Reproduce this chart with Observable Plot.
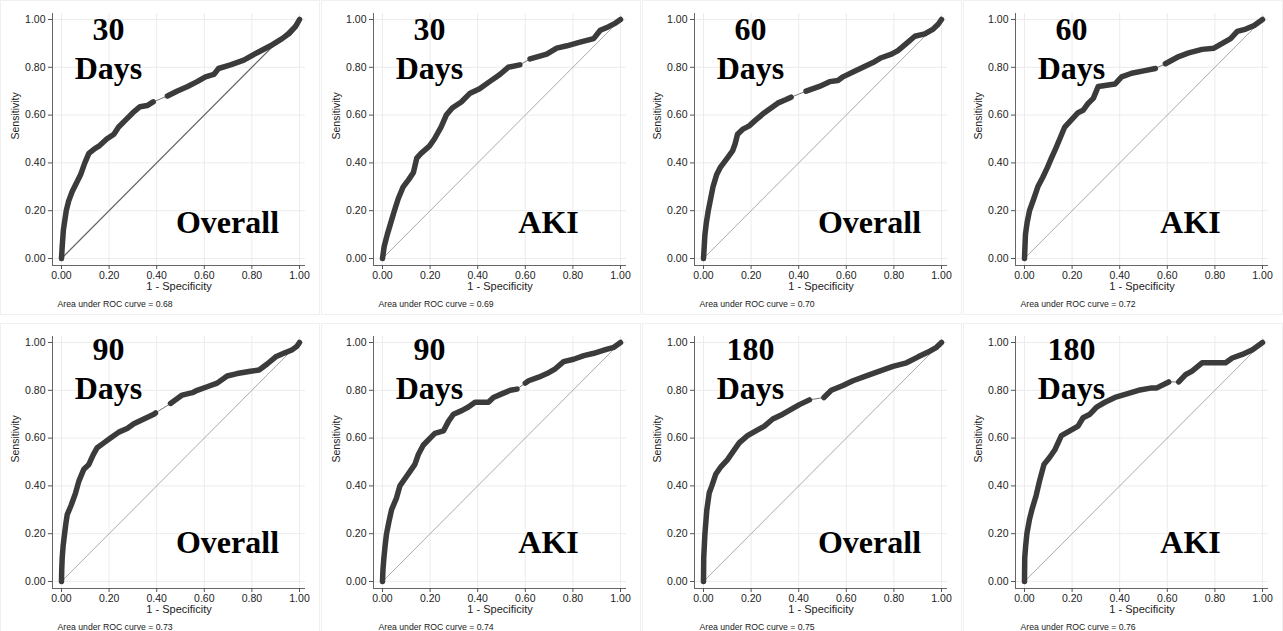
<!DOCTYPE html>
<html><head><meta charset="utf-8">
<script src="https://cdn.jsdelivr.net/npm/d3@7"></script>
<script src="https://cdn.jsdelivr.net/npm/@observablehq/plot@0.6"></script>
<style>
html,body{margin:0;padding:0;background:#fff;}
#wrap{position:relative;width:1283px;height:631px;overflow:hidden;background:#fff;}
.panel{position:absolute;width:320px;height:315px;outline:1px solid #f0f0f0;outline-offset:-1px;}
.panel svg{display:block;}
</style></head><body><div id="wrap"></div>
<script>
// ---- data ----
const days = ["30", "30", "60", "60", "90", "90", "180", "180"];
const groups = ["Overall", "AKI", "Overall", "AKI", "Overall", "AKI", "Overall", "AKI"];
const auc = [0.68, 0.69, 0.70, 0.72, 0.73, 0.74, 0.75, 0.76];
const ticks = [0, 0.2, 0.4, 0.6, 0.8, 1];
const diagonal = [[0, 0], [1, 1]];

const roc30Overall = [[0,0],[0.003,0.05],[0.008,0.12],[0.02,0.2],[0.03,0.24],[0.045,0.28],[0.055,0.3],[0.08,0.35],[0.098,0.40],[0.115,0.44],[0.14,0.46],[0.157,0.47],[0.19,0.50],[0.22,0.52],[0.24,0.55],[0.27,0.58],[0.30,0.61],[0.33,0.635],[0.36,0.64],[0.385,0.655],[0.445,0.68],[0.485,0.70],[0.53,0.72],[0.57,0.74],[0.605,0.76],[0.64,0.77],[0.66,0.795],[0.71,0.81],[0.766,0.83],[0.82,0.86],[0.878,0.89],[0.927,0.92],[0.955,0.94],[0.983,0.97],[1,1]];
const roc30AKI = [[0,0],[0.007,0.05],[0.02,0.10],[0.035,0.15],[0.05,0.20],[0.066,0.25],[0.087,0.30],[0.11,0.33],[0.13,0.36],[0.144,0.42],[0.162,0.44],[0.197,0.47],[0.218,0.50],[0.246,0.55],[0.268,0.60],[0.293,0.63],[0.331,0.655],[0.366,0.69],[0.408,0.71],[0.45,0.74],[0.493,0.77],[0.528,0.80],[0.577,0.81],[0.62,0.835],[0.69,0.855],[0.732,0.88],[0.775,0.89],[0.83,0.905],[0.887,0.92],[0.915,0.955],[0.95,0.97],[0.979,0.985],[1,1]];
const roc60Overall = [[0,0],[0.003,0.05],[0.006,0.10],[0.012,0.15],[0.02,0.20],[0.03,0.25],[0.04,0.30],[0.055,0.35],[0.07,0.38],[0.1,0.42],[0.122,0.45],[0.133,0.48],[0.143,0.52],[0.164,0.54],[0.192,0.555],[0.22,0.58],[0.256,0.61],[0.284,0.63],[0.312,0.65],[0.347,0.665],[0.368,0.675],[0.431,0.70],[0.487,0.72],[0.53,0.74],[0.565,0.745],[0.586,0.76],[0.628,0.78],[0.67,0.80],[0.712,0.82],[0.747,0.84],[0.79,0.855],[0.817,0.87],[0.853,0.90],[0.888,0.93],[0.93,0.94],[0.965,0.96],[0.986,0.98],[1,1]];
const roc60AKI = [[0,0],[0.002,0.05],[0.004,0.10],[0.011,0.15],[0.021,0.20],[0.039,0.25],[0.056,0.30],[0.077,0.34],[0.096,0.38],[0.113,0.42],[0.131,0.46],[0.148,0.50],[0.169,0.55],[0.197,0.58],[0.225,0.61],[0.246,0.62],[0.268,0.65],[0.289,0.67],[0.31,0.72],[0.345,0.725],[0.38,0.73],[0.408,0.76],[0.45,0.775],[0.5,0.785],[0.55,0.795],[0.592,0.815],[0.648,0.845],[0.69,0.86],[0.746,0.875],[0.796,0.88],[0.831,0.90],[0.866,0.92],[0.894,0.95],[0.93,0.96],[0.965,0.975],[1,1]];
const roc90Overall = [[0,0],[0.001,0.05],[0.003,0.10],[0.007,0.15],[0.013,0.20],[0.018,0.24],[0.024,0.28],[0.041,0.32],[0.059,0.37],[0.073,0.42],[0.094,0.47],[0.115,0.49],[0.133,0.53],[0.15,0.56],[0.178,0.58],[0.206,0.60],[0.241,0.625],[0.276,0.64],[0.304,0.66],[0.346,0.68],[0.388,0.70],[0.395,0.705],[0.458,0.745],[0.507,0.78],[0.55,0.79],[0.57,0.80],[0.612,0.815],[0.654,0.83],[0.696,0.86],[0.738,0.87],[0.794,0.88],[0.83,0.885],[0.864,0.91],[0.9,0.94],[0.934,0.955],[0.97,0.97],[0.99,0.985],[1,1]];
const roc90AKI = [[0,0],[0.002,0.05],[0.006,0.10],[0.011,0.15],[0.017,0.20],[0.027,0.25],[0.038,0.30],[0.059,0.35],[0.073,0.40],[0.094,0.43],[0.115,0.46],[0.136,0.49],[0.15,0.53],[0.171,0.57],[0.2,0.60],[0.22,0.62],[0.256,0.63],[0.277,0.67],[0.298,0.70],[0.333,0.715],[0.361,0.73],[0.389,0.75],[0.445,0.75],[0.466,0.77],[0.501,0.785],[0.537,0.80],[0.565,0.805],[0.6,0.83],[0.614,0.84],[0.656,0.855],[0.691,0.87],[0.726,0.89],[0.761,0.92],[0.803,0.93],[0.846,0.945],[0.888,0.955],[0.937,0.97],[0.972,0.98],[1,1]];
const roc180Overall = [[0,0],[0.001,0.10],[0.006,0.20],[0.014,0.30],[0.024,0.37],[0.035,0.40],[0.052,0.45],[0.073,0.48],[0.101,0.51],[0.122,0.54],[0.15,0.58],[0.185,0.61],[0.22,0.63],[0.256,0.65],[0.291,0.68],[0.333,0.70],[0.368,0.72],[0.403,0.74],[0.445,0.76],[0.506,0.77],[0.537,0.80],[0.586,0.82],[0.628,0.84],[0.684,0.86],[0.74,0.88],[0.796,0.90],[0.853,0.915],[0.902,0.94],[0.944,0.96],[0.979,0.98],[1,1]];
const roc180AKI = [[0,0],[0.001,0.10],[0.005,0.15],[0.01,0.20],[0.021,0.26],[0.031,0.30],[0.049,0.36],[0.063,0.42],[0.082,0.49],[0.106,0.52],[0.127,0.55],[0.155,0.61],[0.19,0.63],[0.225,0.65],[0.246,0.685],[0.275,0.70],[0.303,0.73],[0.338,0.75],[0.38,0.77],[0.43,0.785],[0.479,0.80],[0.535,0.81],[0.556,0.81],[0.606,0.835],[0.648,0.835],[0.676,0.865],[0.704,0.88],[0.746,0.915],[0.845,0.915],[0.873,0.935],[0.915,0.95],[0.958,0.97],[1,1]];

const curves = [roc30Overall, roc30AKI, roc60Overall, roc60AKI, roc90Overall, roc90AKI, roc180Overall, roc180AKI];
// sparse stretches where only the thin connecting line is visible
const gaps = [[0.385,0.445],[0.577,0.62],[0.368,0.431],[0.55,0.592],[0.395,0.458],[0.565,0.6],[0.445,0.506],[0.606,0.648]];

// ---- layout ----
const panelLeft = [0, 321, 642, 963];
const panelTop = [0, 323];
const xDomain = [-0.0378, 1.0252];
const yDomain = [-0.0293, 1.0251];
const fmt = d3.format(".2f");

const wrap = document.getElementById("wrap");

curves.forEach((curve, i) => {
  const row = Math.floor(i / 4), col = i % 4;
  const shift = row === 1 ? -3 : 0;
  const pts = curve.map(([x, y]) => ({x, y, seg: x >= gaps[i][1] ? 1 : 0}));
  const diag = diagonal.map(([x, y]) => ({x, y}));
  const plot = Plot.plot({
    width: 320, height: 315,
    marginLeft: 52, marginRight: 15, marginTop: 13, marginBottom: 50,
    x: {domain: xDomain},
    y: {domain: yDomain},
    style: {fontFamily: "'Liberation Sans', Arial, sans-serif", background: "white", overflow: "visible"},
    marks: [
      Plot.gridX(ticks, {stroke: "#ececec", strokeOpacity: 1}),
      Plot.gridY(ticks, {stroke: "#ececec", strokeOpacity: 1}),
      Plot.ruleX([xDomain[0]], {stroke: "#666", strokeWidth: 1}),
      Plot.ruleY([yDomain[0]], {stroke: "#666", strokeWidth: 1}),
      Plot.axisX(ticks, {tickFormat: fmt, tickSize: 4, tickPadding: 2, fontSize: 10.5, stroke: "#555", fill: "#222", label: null}),
      Plot.axisY(ticks, {tickFormat: fmt, tickSize: 4, tickPadding: 3, fontSize: 10.5, stroke: "#555", fill: "#222", label: null}),
      Plot.line(diag, {x: "x", y: "y", stroke: i === 0 ? "#666" : "#aaa", strokeWidth: i === 0 ? 1.3 : 1}),
      Plot.line(pts, {x: "x", y: "y", stroke: "#777", strokeWidth: 1}),
      Plot.line(pts, {x: "x", y: "y", z: "seg", stroke: "#3b3b3b", strokeWidth: 5.5, strokeLinejoin: "round", strokeLinecap: "round"}),
      Plot.text(["1 - Specificity"], {frameAnchor: "bottom", dy: 24, fontSize: 11, fill: "#222"}),
      Plot.text(["Sensitivity"], {frameAnchor: "left", rotate: -90, dx: -37, fontSize: 10.5, fill: "#222"}),
      Plot.text(["Area under ROC curve = " + fmt(auc[i])], {frameAnchor: "bottom-left", textAnchor: "start", dx: 5, dy: 41, fontSize: 8.7, fill: "#222"}),
      Plot.text([days[i]], {frameAnchor: "top-left", textAnchor: "middle", lineAnchor: "bottom", dx: 56, dy: 26 + shift, fontFamily: "'Liberation Serif', 'Times New Roman', serif", fontWeight: "bold", fontSize: 32, fill: "#000"}),
      Plot.text(["Days"], {frameAnchor: "top-left", textAnchor: "middle", lineAnchor: "bottom", dx: 56, dy: 65 + shift, fontFamily: "'Liberation Serif', 'Times New Roman', serif", fontWeight: "bold", fontSize: 32, fill: "#000"}),
      Plot.text([groups[i]], {frameAnchor: "top-left", textAnchor: "middle", lineAnchor: "bottom", dx: 175, dy: 219 + shift, fontFamily: "'Liberation Serif', 'Times New Roman', serif", fontWeight: "bold", fontSize: 32, fill: "#000"})
    ]
  });
  const div = document.createElement("div");
  div.className = "panel";
  div.style.left = panelLeft[col] + "px";
  div.style.top = panelTop[row] + "px";
  div.appendChild(plot);
  wrap.appendChild(div);
});
</script></body></html>
